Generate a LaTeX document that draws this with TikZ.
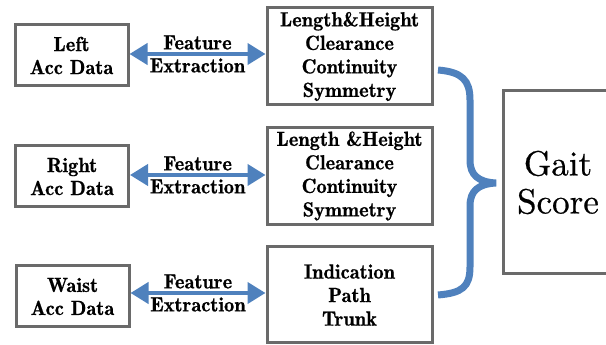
\documentclass[tikz,border=0pt]{standalone}
\usepackage{fontspec}
\newfontfamily\demifont{lmromandemi10-regular.otf}[FakeBold=0.6]
\newfontfamily\scorefont{lmroman10-regular.otf}[FakeBold=0.6]
\usepackage{tikz}
\usetikzlibrary{arrows.meta}

\definecolor{flowblue}{HTML}{4F81BD}
\definecolor{framegray}{HTML}{6A6A6A}

\begin{document}
\begin{tikzpicture}[x=1pt,y=1pt,
    databox/.style={draw=framegray,line width=3pt,inner sep=0pt,align=center,
        minimum width=113pt,minimum height=61pt,
        font=\demifont\fontsize{20.5}{23}\selectfont},
    featbox/.style={draw=framegray,line width=3pt,inner sep=0pt,align=center,
        minimum width=165pt,minimum height=97pt,
        font=\demifont\fontsize{20.5}{23.5}\selectfont},
    featarrow/.style={{Triangle[length=18pt,width=21pt]}-{Triangle[length=18pt,width=21pt]},
        draw=flowblue,line width=4pt},
    featlabel/.style={align=center,inner sep=0pt,font=\demifont\fontsize{20.5}{23}\selectfont}
]

\useasboundingbox (0,0) rectangle (606,345);

% Raw accelerometer data
\node[databox] (left)  at (71.5,289.5) {Left\\Acc Data};
\node[databox] (right) at (72,168.5)   {Right\\Acc Data};
\node[databox] (waist) at (72.5,48.5)  {Waist\\Acc Data};

% Extracted features
\node[featbox] (leftfeat)  at (349.5,288.5) {Length\&Height\\Clearance\\Continuity\\Symmetry};
\node[featbox] (rightfeat) at (349.5,169)   {Length \&Height\\Clearance\\Continuity\\Symmetry};
\node[featbox,minimum height=96pt] (waistfeat) at (349.5,50) {Indication\\Path\\Trunk};

% Final score (runs off the right edge)
\node[draw=framegray,line width=3pt,minimum width=110pt,minimum height=183pt,
    align=center,font=\scorefont\fontsize{35}{38}\selectfont] (gait) at (558,162.5) {Gait\\Score};

% Feature extraction arrows
\draw[featarrow] (left.east|-0,291) -- node[featlabel] {Feature\\Extraction} (leftfeat.west|-0,291);
\draw[featarrow] (right.east|-0,170) -- node[featlabel] {Feature\\Extraction} (rightfeat.west|-0,170);
\draw[featarrow] (waist.east|-0,52) -- node[featlabel] {Feature\\Extraction} (waistfeat.west|-0,52);

% Curly brace gathering the features
\draw[flowblue,line width=7pt]
    (438,275) .. controls (462,273) and (470,265) .. (470,245) -- (470,185)
    .. controls (470,170) and (478,163) .. (496,162)
    .. controls (478,161) and (470,154) .. (470,139) -- (470,78)
    .. controls (470,58) and (462,52) .. (438,50);

\end{tikzpicture}
\end{document}
